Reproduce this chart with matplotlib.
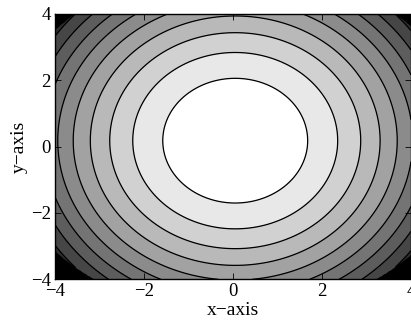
import numpy as np
import matplotlib
matplotlib.use("Agg")
import matplotlib.pyplot as plt

## Surface: z = (x - x0)^2 + b * (y - y0)^2
x_center = 0.05
y_center = 0.18
y_weight = 0.75
## Data only exists inside this radius (corners are empty)
domain_radius = 5.25

## Contour levels (equally spaced) and axis ticks
levels = [0.0, 2.65, 5.3, 7.95, 10.6, 13.25, 15.9, 18.55, 21.2, 23.85, 26.5, 29.15, 31.8]
ticks = [-4, -2, 0, 2, 4]
x_label = "x\u2212axis"
y_label = "y\u2212axis"

plt.rcParams["font.family"] = ["Liberation Serif", "DejaVu Serif"]
plt.rcParams["axes.unicode_minus"] = True

x = np.linspace(-4, 4, 501)
y = np.linspace(-4, 4, 501)
X, Y = np.meshgrid(x, y)
Z = (X - x_center) ** 2 + y_weight * (Y - y_center) ** 2
outside = (X - x_center) ** 2 + (Y - y_center) ** 2 > domain_radius ** 2
Z = np.ma.masked_where(outside, Z)

## Grey bands, white in the middle going to black
n_bands = len(levels) - 1
band_colors = [str(1 - k / (n_bands - 1)) for k in range(n_bands)]

fig = plt.figure(figsize=(4.11, 3.25), dpi=100)
ax = fig.add_axes([0.1338, 0.1406, 0.8662, 0.8164])
ax.set_facecolor("black")

ax.contourf(X, Y, Z, levels=levels, colors=band_colors, antialiased=True)
ax.contour(X, Y, Z, levels=levels[1:-1], colors="black", linewidths=0.9)

ax.set_xlim(-4, 4)
ax.set_ylim(-4, 4)
ax.set_xticks(ticks)
ax.set_yticks(ticks)
ax.tick_params(direction="in", top=True, right=True, length=4, width=0.6,
               labelsize=13.5, pad=3)
for spine in ax.spines.values():
    spine.set_linewidth(1.0)

ax.set_xlabel(x_label, fontsize=14, labelpad=1)
ax.set_ylabel(y_label, fontsize=14, labelpad=2)

fig.savefig("out.png", dpi=100)
